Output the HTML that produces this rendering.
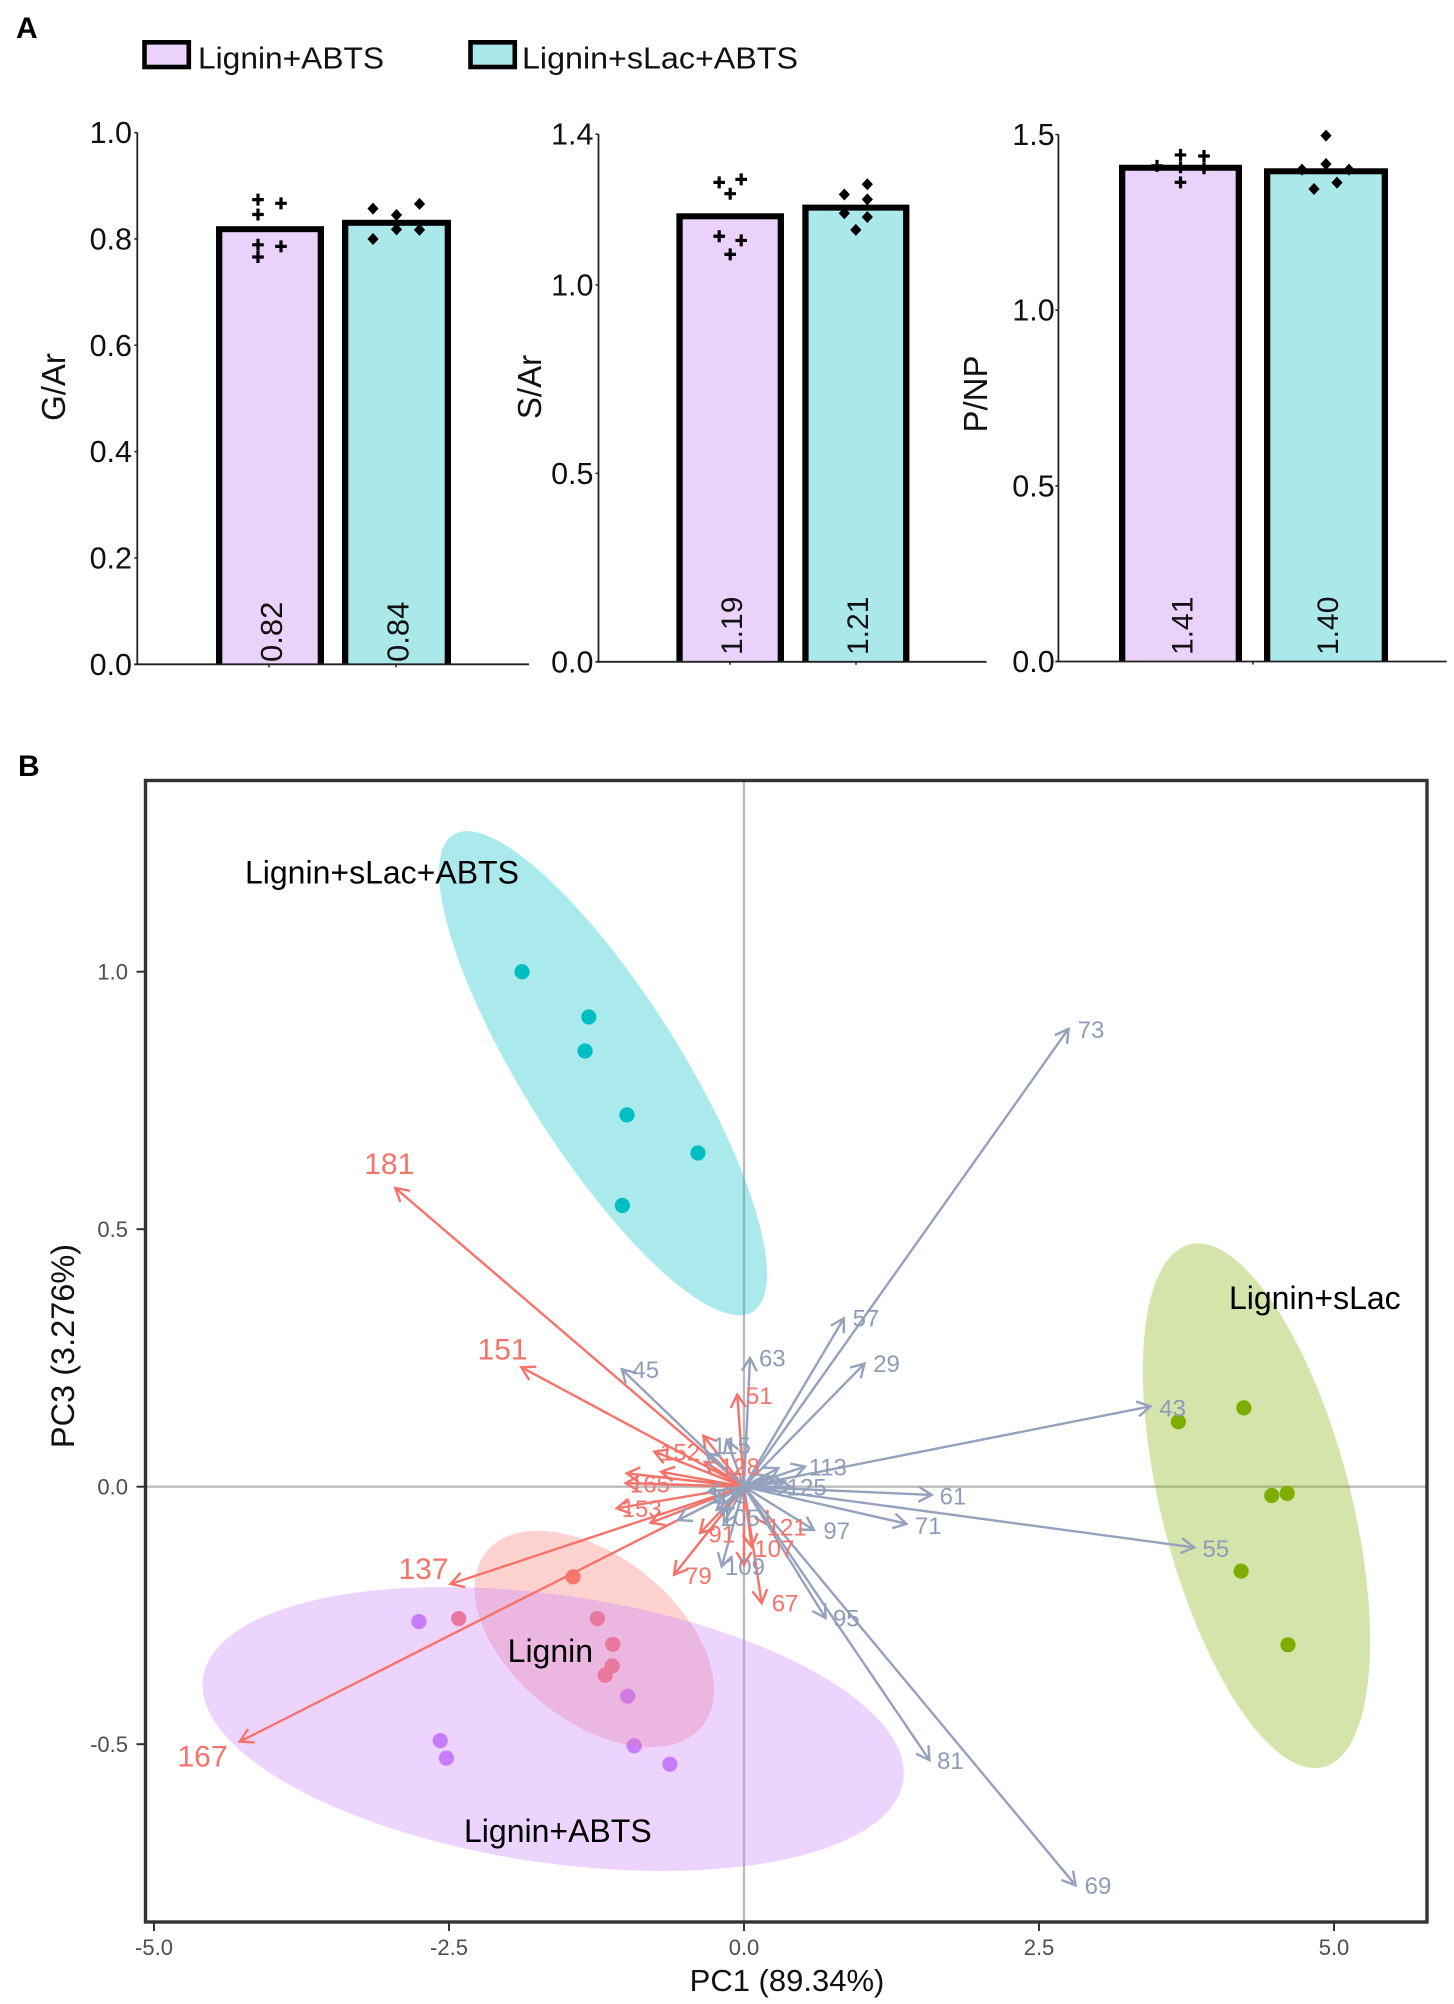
<!DOCTYPE html>
<html lang="en">
<head>
<meta charset="utf-8">
<title>Lignin bar charts and PCA biplot</title>
<style>
html,body{margin:0;padding:0;background:#fff;}
svg{display:block;font-family:"Liberation Sans",Arial,sans-serif;}
</style>
</head>
<body>
<svg id="figure" xmlns="http://www.w3.org/2000/svg" width="1454" height="2004" viewBox="0 0 1454 2004">
  <text x="16" y="38" font-size="30" font-weight="bold" fill="#000">A</text>
  <text x="18" y="776" font-size="30" font-weight="bold" fill="#000">B</text>
  <g>
    <rect x="144.5" y="42.3" width="44.3" height="24.7" fill="#ead2fb" stroke="#000" stroke-width="4.6"/>
    <text x="198" y="68.5" font-size="31" textLength="186" lengthAdjust="spacingAndGlyphs" fill="#111">Lignin+ABTS</text>
    <rect x="470.5" y="42.3" width="44.3" height="24.7" fill="#aae8ea" stroke="#000" stroke-width="4.6"/>
    <text x="522" y="68.5" font-size="31" textLength="276" lengthAdjust="spacingAndGlyphs" fill="#111">Lignin+sLac+ABTS</text>
  </g>
  <g id="panelA"></g>
  <g id="panelB"></g>
</svg>
<script>
// ---------- Panel A data ----------
const barGroups = ['Lignin+ABTS', 'Lignin+sLac+ABTS'];
const gArValues = [0.824, 0.836];
const sArValues = [1.19, 1.213];
const pNpValues = [1.414, 1.404];
const gArTicks = [0, 0.2, 0.4, 0.6, 0.8, 1.0];
const sArTicks = [0, 0.5, 1.0, 1.4];
const pNpTicks = [0, 0.5, 1.0, 1.5];
const gArLigninAbtsReps = [0.874, 0.846, 0.867, 0.789, 0.786, 0.766];
const gArLacAbtsReps = [0.857, 0.845, 0.866, 0.800, 0.818, 0.817];
const sArLigninAbtsReps = [1.272, 1.28, 1.242, 1.129, 1.118, 1.081];
const sArLacAbtsReps = [1.267, 1.24, 1.227, 1.19, 1.18, 1.146];
const pNpLigninAbtsReps = [1.442, 1.439, 1.411, 1.404, 1.407, 1.364];
const pNpLacAbtsReps = [1.497, 1.416, 1.40, 1.40, 1.363, 1.345];

// ---------- Panel B data ----------
const xTicks = [-5, -2.5, 0, 2.5, 5];
const yTicks = [-0.5, 0, 0.5, 1.0];
const ligninPc1 = [-1.449, -2.418, -1.242, -1.112, -1.117, -1.177];
const ligninPc3 = [-0.175, -0.256, -0.256, -0.306, -0.348, -0.366];
const ligninAbtsPc1 = [-2.755, -2.574, -2.522, -0.986, -0.931, -0.628];
const ligninAbtsPc3 = [-0.262, -0.493, -0.527, -0.407, -0.503, -0.539];
const lacAbtsPc1 = [-1.881, -1.315, -1.347, -0.992, -0.390, -1.031];
const lacAbtsPc3 = [1.0, 0.912, 0.846, 0.722, 0.648, 0.546];
const lacPc1 = [3.681, 4.236, 4.472, 4.603, 4.213, 4.610];
const lacPc3 = [0.126, 0.153, -0.017, -0.013, -0.164, -0.307];

const blueLabels = ['73','57','29','63','45','43','113','125','','61','71','55','97','95','81','69','109','105','115','103','','','','','','','',''];
const bluePc1 = [2.750,0.847,1.021,0.051,-1.036,3.444,0.517,0.348,0.291,1.591,1.377,3.816,0.593,0.691,1.572,2.810,-0.189,-0.232,-0.146,-0.305,-0.316,-0.559,-0.20,-0.26,-0.17,0.30,0.22,0.40];
const bluePc3 = [0.889,0.327,0.239,0.250,0.228,0.156,0.039,0.010,0.036,-0.016,-0.072,-0.118,-0.084,-0.255,-0.531,-0.774,-0.155,-0.045,0.091,-0.010,0.065,-0.065,-0.05,-0.03,-0.07,0.008,0.02,0.0];
const blueLabelPc1 = [2.941,1.034,1.208,0.240,-0.833,3.632,0.710,0.531,0,1.771,1.561,3.999,0.786,0.867,1.749,3.000,0.008,-0.034,-0.104,-0.135,0,0,0,0,0,0,0,0];
const blueLabelPc3 = [0.888,0.327,0.239,0.250,0.227,0.153,0.038,-0.001,0,-0.018,-0.076,-0.120,-0.085,-0.255,-0.532,-0.775,-0.155,-0.060,0.080,-0.016,0,0,0,0,0,0,0,0];

const redLabels = ['181','151','51','137','167','79','67','91','107','121','152','128','165','153','','','','',''];
const redPc1 = [-2.955,-1.887,-0.057,-2.487,-4.273,-0.593,0.150,-0.373,0.065,0.203,-0.760,-0.331,-1.003,-1.079,-0.345,-0.994,-0.703,-0.791,0];
const redPc3 = [0.580,0.232,0.179,-0.189,-0.495,-0.171,-0.226,-0.090,-0.117,-0.074,0.068,0.048,0.007,-0.042,0.099,0.026,0.029,-0.070,-0.152];
const redLabelPc1 = [-3.006,-2.046,0.129,-2.716,-4.589,-0.387,0.348,-0.189,0.257,0.362,-0.542,-0.034,-0.797,-0.867,0,0,0,0,0];
const redLabelPc3 = [0.628,0.267,0.177,-0.159,-0.523,-0.173,-0.226,-0.092,-0.120,-0.078,0.067,0.039,0.005,-0.043,0,0,0,0,0];
const bigRedLabels = ['181','151','137','167'];

const ligninEllipse = [-1.269, -0.2957, 1.015, 0.2101, -0.47];
const lacEllipse = [4.343, -0.037, 0.963, 0.5095, -0.515];
const lacAbtsEllipse = [-1.195, 0.803, 1.390, 0.470, -0.83];
const ligninAbtsEllipse = [-1.617, -0.4705, 2.972, 0.2757, -0.31];

// ---------- helpers ----------
const NS = 'http://www.w3.org/2000/svg';
function mk(parent, tag, attrs, text) {
  const el = document.createElementNS(NS, tag);
  for (const k in attrs) el.setAttribute(k, attrs[k]);
  if (text !== undefined) el.textContent = text;
  parent.appendChild(el);
  return el;
}

// ---------- Panel A ----------
const panelA = document.getElementById('panelA');
const barCharts = [
  {key:'g-ar', title:'G/Ar', titleX:65, titleY:387, axisX:137.3, axisEnd:529, y0:664.3, unit:531.7, top:1.0, ticks:gArTicks, tickRight:132,
   values:gArValues, bars:[[216,108],[342,109]], labelBottom:662, labelSize:31, xTicksAt:[269,396], reps:[gArLigninAbtsReps,gArLacAbtsReps],
   jitter:[[-12,-12,11,-12,11,-12],[-23.5,0,23,-23.5,0,23]]},
  {key:'s-ar', title:'S/Ar', titleX:541, titleY:387, axisX:598.5, axisEnd:986.6, y0:661.8, unit:376.9, top:1.4, ticks:sArTicks, tickRight:593.5,
   values:sArValues, bars:[[676.4,107.6],[802.3,107.1]], labelBottom:655, labelSize:30, xTicksAt:[730,856], reps:[sArLigninAbtsReps,sArLacAbtsReps],
   jitter:[[-11,11,0,-11,11,0],[11.5,-11.5,11.5,-11.5,11.5,0]]},
  {key:'p-np', title:'P/NP', titleX:987, titleY:394, axisX:1058.4, axisEnd:1446.7, y0:661.5, unit:351.3, top:1.5, ticks:pNpTicks, tickRight:1054.7,
   values:pNpValues, bars:[[1119,123],[1264,124]], labelBottom:655, labelSize:30, xTicksAt:[1253], reps:[pNpLigninAbtsReps,pNpLacAbtsReps],
   jitter:[[0,23.5,-23.5,23.5,0,0],[0,0,-24,23,11,-12]]}
];
const barFills = ['#ead2fb', '#aae8ea'];

barCharts.forEach(function (c) {
  const yS = function (v) { return c.y0 - v * c.unit; };
  const g = mk(panelA, 'g', {});
  
  

  c.values.forEach(function (v, i) {
    const bx = c.bars[i][0], bw = c.bars[i][1];
    const outer = mk(g, 'rect', {x:bx, y:yS(v), width:bw, height:c.y0 - yS(v), fill:'#000'});
    
    
    const inner = mk(g, 'rect', {x:bx + 6.3, y:yS(v) + 6, width:bw - 12.6, height:c.y0 - yS(v) - 6, fill:barFills[i]});
    
    
    const cx = bx + bw / 2;
    const lab = mk(g, 'text', {x:0, y:0, 'font-size':c.labelSize, fill:'#111', transform:'translate(' + (cx + 12) + ' ' + c.labelBottom + ') rotate(-90)'}, v.toFixed(2));
    
    
    c.reps[i].forEach(function (r, j) {
      const mx = cx + c.jitter[i][j], my = yS(r);
      let m;
      if (i === 0) {
        m = mk(g, 'path', {d:'M' + (mx - 5.8) + ' ' + my + 'H' + (mx + 5.8) + 'M' + mx + ' ' + (my - 6) + 'V' + (my + 6), stroke:'#000', 'stroke-width':3.2, fill:'none'});
      } else {
        m = mk(g, 'polygon', {points:(mx - 5.6) + ',' + my + ' ' + mx + ',' + (my - 6) + ' ' + (mx + 5.6) + ',' + my + ' ' + mx + ',' + (my + 6), fill:'#000'});
      }
      
      
    });
  });

  const yAxis = mk(g, 'line', {x1:c.axisX, x2:c.axisX, y1:yS(c.top), y2:c.y0, stroke:'#222', 'stroke-width':1.8});
  
  
  const xAxis = mk(g, 'line', {x1:c.axisX - 3, x2:c.axisEnd, y1:c.y0, y2:c.y0, stroke:'#222', 'stroke-width':1.8});
  
  
  c.xTicksAt.forEach(function (tx) {
    const t = mk(g, 'line', {x1:tx, x2:tx, y1:c.y0, y2:c.y0 + 3, stroke:'#222', 'stroke-width':1.5});
    
    
  });
  c.ticks.forEach(function (v) {
    const t = mk(g, 'line', {x1:c.axisX - 3, x2:c.axisX, y1:yS(v), y2:yS(v), stroke:'#222', 'stroke-width':1.5});
    
    
    const l = mk(g, 'text', {x:c.tickRight, y:yS(v) + 10.5, 'font-size':30.5, 'text-anchor':'end', fill:'#111'}, v.toFixed(1));
    
    
  });
  const title = mk(g, 'text', {x:0, y:0, 'font-size':33, 'text-anchor':'middle', fill:'#111', transform:'translate(' + c.titleX + ' ' + c.titleY + ') rotate(-90)'}, c.title);
  
  
});

// ---------- Panel B ----------
const panelB = document.getElementById('panelB');
const FRAME = {left:145.5, right:1427, top:780.5, bottom:1922};
function xPc(v) { return 744 + v * 118; }
function yPc(v) { return 1486.7 - v * 515; }

const vZero = mk(panelB, 'line', {x1:xPc(0), x2:xPc(0), y1:FRAME.top, y2:FRAME.bottom, stroke:'#bbbbbb', 'stroke-width':2.3});


const hZero = mk(panelB, 'line', {x1:FRAME.left, x2:FRAME.right, y1:yPc(0), y2:yPc(0), stroke:'#bbbbbb', 'stroke-width':2.3});



function drawPoints(xs, ys, color, name) {
  xs.forEach(function (x, i) {
    const p = mk(panelB, 'circle', {cx:xPc(x), cy:yPc(ys[i]), r:7.6, fill:color});
    
    
  });
}
drawPoints(ligninPc1, ligninPc3, '#F8766D', 'lignin');
drawPoints(ligninAbtsPc1, ligninAbtsPc3, '#C77CFF', 'lignin-abts');
drawPoints(lacAbtsPc1, lacAbtsPc3, '#00BFC4', 'lignin-slac-abts');
drawPoints(lacPc1, lacPc3, '#7CAE00', 'lignin-slac');

function drawEllipse(e, color, name) {
  const n = 120;
  let d = '';
  for (let i = 0; i < n; i++) {
    const t = i / n * 2 * Math.PI;
    const ex = e[0] + e[2] * Math.cos(t);
    const ey = e[1] + e[3] * (e[4] * Math.cos(t) + Math.sqrt(1 - e[4] * e[4]) * Math.sin(t));
    d += (i ? 'L' : 'M') + xPc(ex).toFixed(1) + ' ' + yPc(ey).toFixed(1);
  }
  const p = mk(panelB, 'path', {d:d + 'Z', fill:color, 'fill-opacity':0.33});
  
  
}
drawEllipse(ligninEllipse, '#F8766D', 'lignin');
drawEllipse(lacEllipse, '#7CAE00', 'lignin-slac');
drawEllipse(lacAbtsEllipse, '#00BFC4', 'lignin-slac-abts');
drawEllipse(ligninAbtsEllipse, '#C77CFF', 'lignin-abts');

function drawArrows(xs, ys, color, name) {
  xs.forEach(function (x, i) {
    const x1 = xPc(0), y1 = yPc(0), x2 = xPc(x), y2 = yPc(ys[i]);
    const ang = Math.atan2(y2 - y1, x2 - x1), len = 15, sp = Math.PI / 6;
    const ax = x2 - len * Math.cos(ang - sp), ay = y2 - len * Math.sin(ang - sp);
    const bx = x2 - len * Math.cos(ang + sp), by = y2 - len * Math.sin(ang + sp);
    const a = mk(panelB, 'path', {d:'M' + x1 + ' ' + y1 + 'L' + x2 + ' ' + y2 + 'M' + ax + ' ' + ay + 'L' + x2 + ' ' + y2 + 'L' + bx + ' ' + by, fill:'none', stroke:color, 'stroke-width':2.4});
    
    
  });
}
function drawArrowLabels(labels, xs, ys, color, name) {
  labels.forEach(function (t, i) {
    if (!t) return;
    const size = bigRedLabels.indexOf(t) >= 0 ? 30 : 24;
    const l = mk(panelB, 'text', {x:xPc(xs[i]), y:yPc(ys[i]) + size * 0.35, 'font-size':size, 'text-anchor':'middle', fill:color}, t);
    
    
  });
}
drawArrows(redPc1, redPc3, '#f5736a', 'red');
drawArrows(bluePc1, bluePc3, '#95a2bd', 'blue');
drawArrowLabels(redLabels, redLabelPc1, redLabelPc3, '#f5736a', 'red');
drawArrowLabels(blueLabels, blueLabelPc1, blueLabelPc3, '#8f9cb8', 'blue');

const groupLabels = ['Lignin+sLac+ABTS', 'Lignin+sLac', 'Lignin', 'Lignin+ABTS'];
const groupLabelPc1 = [-4.229, 4.11, -2.003, -2.373];
const groupLabelPc3 = [1.171, 0.345, -0.340, -0.690];
groupLabels.forEach(function (t, i) {
  const l = mk(panelB, 'text', {x:xPc(groupLabelPc1[i]), y:yPc(groupLabelPc3[i]), 'font-size':32, fill:'#000'}, t);
  
  
});

const frame = mk(panelB, 'rect', {x:FRAME.left, y:FRAME.top, width:FRAME.right - FRAME.left, height:FRAME.bottom - FRAME.top, fill:'none', stroke:'#333', 'stroke-width':3.4});



xTicks.forEach(function (v) {
  const t = mk(panelB, 'line', {x1:xPc(v), x2:xPc(v), y1:FRAME.bottom, y2:FRAME.bottom + 9, stroke:'#333', 'stroke-width':2});
  
  
  const l = mk(panelB, 'text', {x:xPc(v), y:1955, 'font-size':22, 'text-anchor':'middle', fill:'#4d4d4d'}, v.toFixed(1));
  
  
});
yTicks.forEach(function (v) {
  const t = mk(panelB, 'line', {x1:FRAME.left - 9, x2:FRAME.left, y1:yPc(v), y2:yPc(v), stroke:'#333', 'stroke-width':2});
  
  
  const l = mk(panelB, 'text', {x:128, y:yPc(v) + 8, 'font-size':22, 'text-anchor':'end', fill:'#4d4d4d'}, v.toFixed(1));
  
  
});
const xTitle = mk(panelB, 'text', {x:787, y:1991, 'font-size':31, 'text-anchor':'middle', fill:'#111'}, 'PC1 (89.34%)');


const yTitle = mk(panelB, 'text', {x:0, y:0, 'font-size':32.5, 'text-anchor':'middle', fill:'#111', transform:'translate(74 1346) rotate(-90)'}, 'PC3 (3.276%)');


</script>
</body>
</html>
